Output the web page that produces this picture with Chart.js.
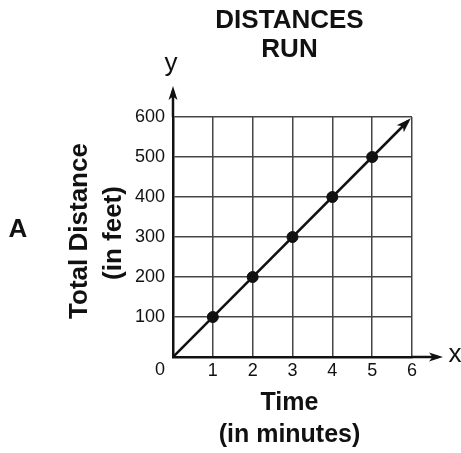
<!DOCTYPE html>
<html lang="en">
  <head>
    <style>
      body { margin: 0; background: #fff; }
    </style>
  </head>
  <body>
    <canvas id="myChart" width="461" height="453"></canvas>

    <script src="https://cdn.jsdelivr.net/npm/chart.js@4.4.0/dist/chart.umd.min.js"></script>
    <script>
      // values
      var xTicks = [0, 1, 2, 3, 4, 5, 6];
      var yTicks = [0, 100, 200, 300, 400, 500, 600];
      var pointTimes = [1, 2, 3, 4, 5];
      var pointDistances = [100, 200, 300, 400, 500];
      var lineTimes = [0, 5.9];
      var lineDistances = [0, 590];

      var titleLines = ["DISTANCES", "RUN"];
      var xTitleLines = ["Time", "(in minutes)"];
      var yTitleLines = ["Total Distance", "(in feet)"];
      var choiceLabel = "A";

      var titleFont = 'bold 26px "Liberation Sans", Arial, sans-serif';
      var axisTitleFont = 'bold 25px "Liberation Sans", Arial, sans-serif';
      var plainFont = '26px "Liberation Sans", Arial, sans-serif';
      var tickFamily = '"Liberation Sans Narrow", "Liberation Sans", Arial, sans-serif';

      function arrowHead(ctx, x, y, angle, len, half) {
        ctx.save();
        ctx.translate(x, y);
        ctx.rotate(angle);
        ctx.beginPath();
        ctx.moveTo(0, 0);
        ctx.lineTo(-len, -half);
        ctx.lineTo(-len * 0.75, 0);
        ctx.lineTo(-len, half);
        ctx.closePath();
        ctx.fill();
        ctx.restore();
      }

      var decorations = {
        id: "decorations",
        afterDraw: function (chart) {
          var ctx = chart.ctx;
          var area = chart.chartArea;
          var cx = (area.left + area.right) / 2 - 3;
          ctx.save();
          ctx.fillStyle = "#111";
          ctx.strokeStyle = "#111";
          ctx.textAlign = "center";
          ctx.textBaseline = "middle";

          // title
          ctx.font = titleFont;
          ctx.fillText(titleLines[0], cx, 21);
          ctx.fillText(titleLines[1], cx, 50);

          // x axis title
          ctx.font = axisTitleFont;
          ctx.fillText(xTitleLines[0], cx, area.bottom + 46);
          ctx.fillText(xTitleLines[1], cx, area.bottom + 78);

          // y axis title (rotated)
          ctx.font = 'bold 26px "Liberation Sans", Arial, sans-serif';
          ctx.save();
          ctx.translate(80, 231);
          ctx.rotate(-Math.PI / 2);
          ctx.fillText(yTitleLines[0], 0, 0);
          ctx.restore();
          ctx.save();
          ctx.translate(114, 233);
          ctx.rotate(-Math.PI / 2);
          ctx.fillText(yTitleLines[1], 0, 0);
          ctx.restore();

          // answer choice letter
          ctx.font = titleFont;
          ctx.fillText(choiceLabel, 18, 230);

          // origin label
          ctx.font = "18px " + tickFamily;
          ctx.fillText("0", area.left - 13, area.bottom + 13);

          // axis arrows
          ctx.lineWidth = 2.5;
          ctx.beginPath();
          ctx.moveTo(area.left, area.top);
          ctx.lineTo(area.left, area.top - 26);
          ctx.moveTo(area.right, area.bottom);
          ctx.lineTo(area.right + 26, area.bottom);
          ctx.stroke();
          arrowHead(ctx, area.left, area.top - 31, -Math.PI / 2, 14, 4.5);
          arrowHead(ctx, area.right + 31, area.bottom, 0, 14, 4.5);

          ctx.font = plainFont;
          ctx.fillText("y", area.left - 2, 64);
          ctx.fillText("x", area.right + 43, area.bottom - 2);

          // arrow at the end of the line
          var pts = chart.getDatasetMeta(0).data;
          var a = pts[pts.length - 2];
          var b = pts[pts.length - 1];
          var ang = Math.atan2(b.y - a.y, b.x - a.x);
          arrowHead(ctx, b.x + Math.cos(ang) * 4, b.y + Math.sin(ang) * 4, ang, 15, 5);
          ctx.restore();
        },
      };

      Chart.defaults.font.family = tickFamily;
      Chart.defaults.color = "#111";

      var ctx = document.getElementById("myChart");
      var chart = new Chart(ctx, {
        type: "scatter",
        data: {
          datasets: [
            {
              label: "line",
              data: lineTimes.map(function (t, i) {
                return { x: t, y: lineDistances[i] };
              }),
              showLine: true,
              borderColor: "#111",
              borderWidth: 2.5,
              pointRadius: 0,
            },
            {
              label: "Distance",
              data: pointTimes.map(function (t, i) {
                return { x: t, y: pointDistances[i] };
              }),
              backgroundColor: "#111",
              borderColor: "#111",
              pointRadius: 5.5,
            },
          ],
        },
        options: {
          responsive: false,
          animation: false,
          layout: {
            padding: { left: 0, top: 117, right: 49, bottom: 0 },
          },
          plugins: {
            legend: { display: false },
            tooltip: { enabled: false },
          },
          scales: {
            x: {
              type: "linear",
              min: 0,
              max: 6,
              afterBuildTicks: function (scale) {
                scale.ticks = xTicks.map(function (v) {
                  return { value: v };
                });
              },
              afterFit: function (scale) {
                scale.height = 96;
              },
              ticks: {
                padding: 3,
                maxRotation: 0,
                font: { size: 18 },
                callback: function (v) {
                  return v === 0 ? "" : v;
                },
              },
              grid: {
                color: "#444",
                lineWidth: 1.5,
                drawTicks: false,
              },
              border: { color: "#111", width: 2.5 },
            },
            y: {
              type: "linear",
              min: 0,
              max: 600,
              afterBuildTicks: function (scale) {
                scale.ticks = yTicks.map(function (v) {
                  return { value: v };
                });
              },
              afterFit: function (scale) {
                scale.width = 173;
              },
              ticks: {
                padding: 8,
                font: { size: 18 },
                callback: function (v) {
                  return v === 0 ? "" : v;
                },
              },
              grid: {
                color: "#444",
                lineWidth: 1.5,
                drawTicks: false,
              },
              border: { color: "#111", width: 2.5 },
            },
          },
        },
        plugins: [decorations],
      });
    </script>
  </body>
</html>
